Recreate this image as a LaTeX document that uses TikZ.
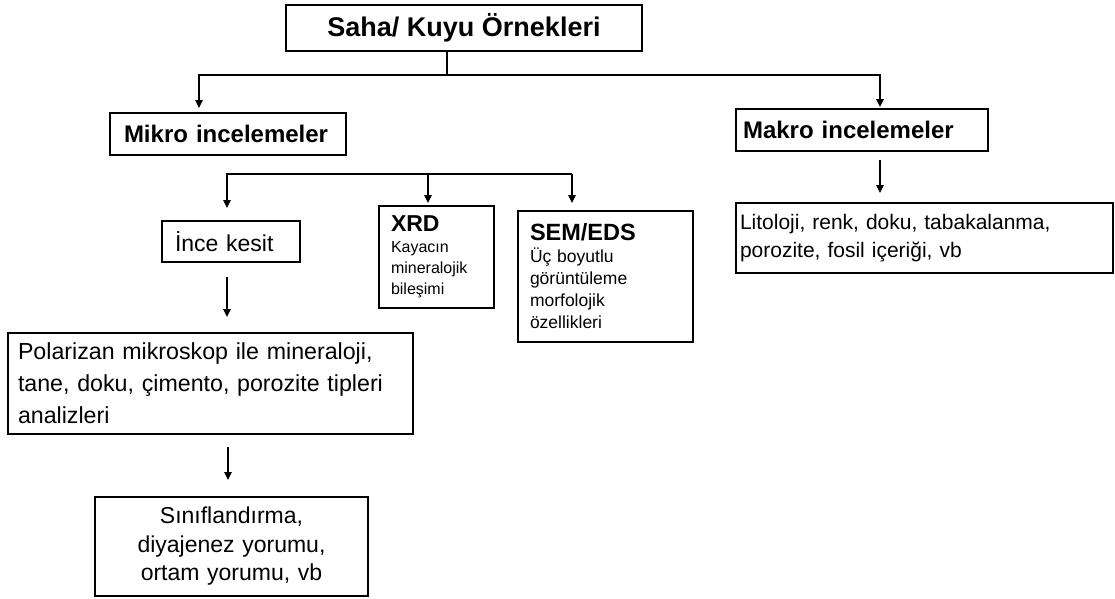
\documentclass[tikz,border=0pt]{standalone}
\usepackage{fontspec}
\setmainfont{Liberation Sans}
\newfontfamily\arfont{Liberation Sans}
\usetikzlibrary{arrows.meta}
\begin{document}
\begin{tikzpicture}[x=1pt,y=-1pt,
  box/.style={draw, line width=1.8pt, inner ysep=0pt, anchor=center},
  conn/.style={line width=1.4pt},
  arr/.style={line width=1.4pt, -{Triangle[length=8pt,width=7.5pt]}}]
\useasboundingbox (0,0) rectangle (1115,598);

% boxes
\node[box, minimum width=356pt, minimum height=46pt,
  font=\arfont\fontsize{27}{30}\selectfont\bfseries] (title) at (464,28) {Saha/ Kuyu Örnekleri};
\node[box, minimum width=236pt, minimum height=42pt, text width=208pt, inner xsep=14pt, align=left,
  font=\arfont\fontsize{24}{27}\selectfont\bfseries] (mikro) at (228,134) {Mikro incelemeler};
\node[box, minimum width=252pt, minimum height=42pt, text width=238pt, inner xsep=7pt, align=left,
  font=\arfont\fontsize{24}{27}\selectfont\bfseries] (makro) at (862,130) {Makro incelemeler};
\node[box, minimum width=377pt, minimum height=70pt, text width=369pt, inner xsep=4pt, align=left,
  font=\arfont\fontsize{21}{28}\selectfont] (lito) at (924.5,238)
  {\makebox[365pt][s]{Litoloji, renk, doku, tabakalanma,}\\porozite, fosil içeriği, vb};
\node[box, minimum width=138pt, minimum height=41pt, text width=112pt, inner xsep=13pt, align=left,
  font=\arfont\fontsize{23}{26}\selectfont] (ince) at (231,241.5) {İnce kesit};
\node[box, minimum width=115pt, minimum height=102pt, text width=91pt, inner xsep=12pt, align=left,
  font=\arfont\fontsize{16}{21}\selectfont] (xrd) at (436.5,257)
  {{\fontsize{23}{21}\selectfont\bfseries XRD}\\Kayacın\\mineralojik\\bileşimi};
\node[box, minimum width=175pt, minimum height=131pt, text width=151pt, inner xsep=12pt, align=left,
  font=\arfont\fontsize{17.5}{22}\selectfont] (sem) at (605.5,276.5)
  {{\fontsize{23.5}{22}\selectfont\bfseries SEM/EDS}\\Üç boyutlu\\görüntüleme\\morfolojik\\özellikleri};
\node[box, minimum width=405pt, minimum height=101pt, text width=385pt, inner xsep=10pt, align=left,
  font=\arfont\fontsize{23.2}{32}\selectfont] (polar) at (210.5,383.5)
  {\makebox[360pt][s]{Polarizan mikroskop ile mineraloji,}\\
   \makebox[372pt][s]{tane, doku, çimento, porozite tipleri}\\analizleri};
\node[box, minimum width=273pt, minimum height=99pt, text width=253pt, inner xsep=10pt, align=center,
  font=\arfont\fontsize{23}{28.5}\selectfont] (sinif) at (231.5,546.5)
  {Sınıflandırma,\\diyajenez yorumu,\\ortam yorumu, vb};

% connector points
\coordinate (j0) at (447,75);
\coordinate (mkT) at (199,108);
\coordinate (mcT) at (880,107);
\coordinate (bL) at (227,174);
\coordinate (bR) at (572,174);
\coordinate (bX) at (428,174);
\coordinate (inT) at (227,208);
\coordinate (xrT) at (428,203);
\coordinate (seT) at (572,203);
\coordinate (inB) at (227,277);
\coordinate (poT) at (227,317);
\coordinate (poB) at (228,447);
\coordinate (siT) at (228,480);
\coordinate (mcB) at (880,160);
\coordinate (liT) at (880,193);

% connectors
\draw[conn] (title.south -| j0) -- (j0);
\draw[arr] (j0) -| (mkT);
\draw[arr] (j0) -| (mcT);
\draw[arr] (bR) -- (bL) -- (inT);
\draw[arr] (bX) -- (xrT);
\draw[arr] (bR) -- (seT);
\draw[arr] (inB) -- (poT);
\draw[arr] (poB) -- (siT);
\draw[arr] (mcB) -- (liT);
\end{tikzpicture}
\end{document}
